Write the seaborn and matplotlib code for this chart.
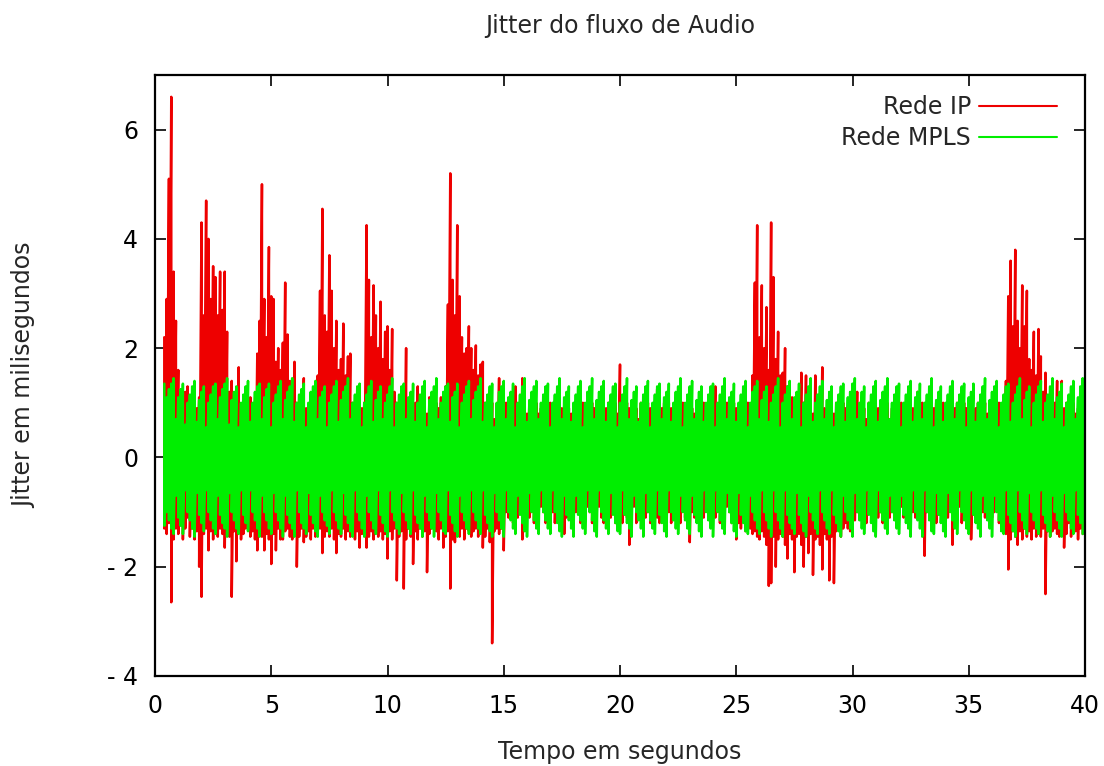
import numpy as np
import pandas as pd
import seaborn as sns
import matplotlib.pyplot as plt

# jitter (ms): for every 0.1 s step, the upper and lower value reached in that step
t_start = 0.4
dt = 0.1

ip_hi = [
    2.2, 2.9, 5.1, 6.6, 3.4, 2.5,                                  # 0.4-0.9
    1.6, 1.1, 0.9, 1.2, 1.3, 0.8, 1.0, 0.7, 0.9, 1.1,              # 1
    4.3, 2.6, 4.7, 4.0, 2.9, 3.5, 3.3, 2.6, 3.4, 2.7,              # 2
    3.4, 2.3, 1.2, 1.4, 0.9, 1.0, 1.65, 0.8, 1.0, 0.7,             # 3
    0.9, 1.1, 0.8, 1.0, 1.9, 2.5, 5.0, 2.9, 2.2, 3.85,             # 4
    2.95, 2.9, 1.75, 2.0, 1.6, 2.1, 3.2, 2.25, 1.4, 1.2,           # 5
    1.75, 1.0, 0.9, 1.1, 1.45, 0.9, 0.8, 1.0, 0.7, 0.9,            # 6
    1.5, 3.05, 4.55, 2.6, 2.3, 3.7, 3.05, 2.0, 2.5, 1.6,           # 7
    1.8, 2.45, 1.5, 1.85, 1.9, 1.0, 0.9, 0.8, 1.1, 0.9,            # 8
    1.0, 4.25, 3.25, 2.2, 3.15, 2.6, 2.0, 2.85, 1.8, 2.3,          # 9
    2.4, 1.6, 2.35, 1.2, 1.0, 0.9, 1.2, 1.0, 2.0, 0.9,             # 10
    1.1, 0.8, 1.0, 1.3, 0.9, 0.7, 1.0, 0.8, 1.1, 0.9,              # 11
    0.8, 1.0, 0.9, 1.1, 0.8, 1.3, 2.8, 5.2, 3.25, 2.6,             # 12
    4.25, 2.95, 2.2, 1.9, 2.0, 2.4, 2.0, 1.6, 2.05, 1.5,           # 13
    1.7, 1.75, 1.0, 0.8, 0.9, 1.0, 0.7, 0.9, 1.45, 0.8,            # 14
    0.9, 1.0, 0.8, 0.7, 1.0, 1.3, 0.9, 0.8, 1.45, 0.9,             # 15
    0.8, 1.0, 0.9, 0.7, 1.0, 0.8, 0.9, 1.0, 0.7, 0.9,              # 16
    1.0, 0.8, 0.9, 1.0, 0.7, 0.9, 0.8, 1.0, 0.9, 0.8,              # 17
    0.9, 1.0, 0.8, 0.9, 1.0, 0.7, 0.9, 0.8, 1.0, 0.9,              # 18
    0.8, 0.9, 1.0, 0.8, 0.9, 1.0, 0.7, 0.9, 1.0, 0.8,              # 19
    1.7, 0.9, 0.8, 1.0, 0.9, 0.8, 1.0, 0.9, 0.7, 1.0,              # 20
    0.9, 0.8, 1.0, 0.9, 0.7, 1.0, 1.25, 0.8, 0.9, 1.0,             # 21
    0.8, 1.0, 0.9, 0.8, 1.0, 0.9, 0.7, 1.0, 0.9, 0.8,              # 22
    1.0, 0.9, 0.8, 1.0, 0.9, 0.7, 1.0, 0.8, 0.9, 1.0,              # 23
    0.9, 1.3, 0.8, 1.0, 0.9, 0.8, 1.0, 0.9, 0.7, 1.0,              # 24
    0.9, 0.8, 1.0, 0.9, 0.8, 1.0, 0.9, 1.5, 3.2, 4.25,             # 25
    2.2, 3.15, 2.0, 2.75, 1.6, 4.3, 3.3, 1.8, 2.3, 1.5,            # 26
    1.55, 2.0, 1.3, 1.0, 1.1, 0.9, 1.0, 0.8, 1.55, 1.0,            # 27
    1.5, 0.9, 1.0, 0.8, 1.5, 0.9, 1.0, 1.65, 0.9, 0.8,             # 28
    1.0, 0.9, 0.8, 1.0, 0.9, 0.7, 1.0, 0.9, 0.8, 1.0,              # 29
    0.9, 1.2, 1.2, 0.8, 1.0, 0.9, 0.7, 1.0, 0.9, 0.8,              # 30
    1.0, 0.9, 0.8, 1.0, 0.9, 1.0, 0.7, 0.9, 1.0, 0.8,              # 31
    0.9, 1.0, 0.8, 0.9, 1.0, 0.7, 0.9, 0.8, 1.2, 0.9,              # 32
    1.0, 0.8, 0.9, 1.0, 0.7, 0.9, 1.0, 0.8, 0.9, 1.0,              # 33
    0.8, 0.9, 1.0, 0.7, 0.9, 1.0, 0.8, 0.9, 1.0, 0.9,              # 34
    0.9, 1.0, 0.8, 0.9, 1.0, 0.7, 0.9, 1.0, 0.8, 0.9,              # 35
    1.0, 0.8, 0.9, 1.0, 0.9, 0.8, 1.4, 2.95, 3.6, 2.4,             # 36
    3.8, 2.5, 2.0, 3.15, 2.4, 3.05, 1.8, 1.6, 2.3, 1.5,            # 37
    2.35, 1.85, 1.2, 1.55, 1.0, 0.9, 0.8, 1.0, 1.4, 0.9,           # 38
    1.4, 0.9, 1.0, 0.8, 0.9, 1.0, 0.8, 0.9, 1.0, 0.7,              # 39
]

ip_lo = [
    -1.3, -1.4, -1.2, -2.65, -1.5, -1.3,                                     # 0.4-0.9
    -1.4, -1.2, -1.5, -1.3, -1.1, -1.45, -1.3, -1.5, -1.35, -2.0,            # 1
    -2.55, -1.4, -1.3, -1.7, -1.35, -1.5, -1.25, -1.45, -1.3, -1.4,          # 2
    -1.65, -1.3, -1.45, -2.55, -1.35, -1.9, -1.3, -1.5, -1.4, -1.3,          # 3
    -1.3, -1.45, -1.35, -1.5, -1.7, -1.3, -1.45, -1.7, -1.4, -1.5,           # 4
    -1.95, -1.4, -1.7, -1.3, -1.5, -1.5, -1.35, -1.3, -1.45, -1.5,           # 5
    -1.35, -2.0, -1.45, -1.3, -1.55, -1.45, -1.35, -1.5, -1.3, -1.45,        # 6
    -1.35, -1.3, -1.75, -1.45, -1.35, -1.45, -1.3, -1.5, -1.75, -1.4,        # 7
    -1.45, -1.3, -1.5, -1.35, -1.45, -1.3, -1.5, -1.35, -1.65, -1.4,         # 8
    -1.3, -1.65, -1.45, -1.35, -1.5, -1.3, -1.45, -1.35, -1.5, -1.4,         # 9
    -1.85, -1.35, -1.5, -1.3, -2.25, -1.45, -1.35, -2.4, -1.5, -1.3,         # 10
    -1.45, -1.95, -1.35, -1.5, -1.3, -1.45, -1.35, -2.1, -1.4, -1.3,         # 11
    -1.25, -1.35, -1.5, -1.3, -1.65, -1.45, -1.35, -2.4, -1.5, -1.55,        # 12
    -1.35, -1.45, -1.3, -1.5, -1.3, -1.35, -1.45, -1.35, -1.3, -1.45,        # 13
    -1.35, -1.65, -1.45, -1.3, -1.55, -3.4, -1.35, -1.3, -1.4, -1.3,         # 14
    -1.7, -1.0, -1.1, -0.9, -1.2, -1.0, -1.1, -0.9, -1.5, -1.0,              # 15
    -1.0, -1.1, -0.9, -1.2, -1.0, -1.1, -0.9, -1.0, -1.2, -1.1,              # 16
    -0.9, -1.0, -1.2, -1.1, -0.9, -1.0, -1.4, -1.1, -1.0, -0.9,              # 17
    -1.1, -1.0, -0.9, -1.2, -1.0, -1.1, -0.9, -1.0, -1.2, -1.1,              # 18
    -1.0, -0.9, -1.1, -1.2, -1.0, -0.9, -1.1, -1.0, -1.2, -1.1,              # 19
    -1.0, -1.2, -0.9, -1.1, -1.6, -1.0, -0.9, -1.2, -1.1, -1.0,              # 20
    -0.9, -1.1, -1.0, -1.2, -0.9, -1.0, -1.1, -1.2, -1.0, -0.9,              # 21
    -1.1, -1.0, -1.2, -0.9, -1.1, -1.0, -1.2, -0.9, -1.1, -1.0,              # 22
    -1.55, -1.0, -1.1, -0.9, -1.2, -1.0, -1.1, -0.9, -1.0, -1.2,             # 23
    -1.0, -1.1, -0.9, -1.2, -1.0, -1.1, -0.9, -1.0, -1.2, -1.1,              # 24
    -1.5, -1.2, -1.3, -1.1, -1.35, -1.2, -1.3, -1.4, -1.35, -1.45,           # 25
    -1.5, -1.35, -1.45, -1.6, -2.35, -2.3, -1.45, -2.0, -1.5, -1.4,          # 26
    -1.45, -1.6, -1.85, -1.4, -1.5, -2.1, -1.45, -1.4, -1.6, -2.0,           # 27
    -1.45, -1.75, -1.4, -2.15, -1.5, -1.45, -1.6, -2.05, -1.4, -1.5,         # 28
    -2.25, -1.45, -2.3, -1.35, -1.3, -1.45, -1.3, -1.2, -1.3, -1.35,         # 29
    -1.0, -1.15, -1.0, -0.9, -1.1, -1.0, -1.2, -0.9, -1.0, -1.1,             # 30
    -0.9, -1.1, -1.0, -1.2, -0.9, -1.0, -1.1, -1.0, -0.9, -1.1,              # 31
    -1.0, -0.9, -1.1, -1.0, -1.2, -0.9, -1.0, -1.1, -0.9, -1.0,              # 32
    -1.1, -1.8, -1.0, -0.9, -1.1, -1.0, -1.2, -0.9, -1.0, -1.1,              # 33
    -1.0, -1.1, -0.9, -1.6, -1.0, -1.1, -0.9, -1.2, -1.0, -1.1,              # 34
    -0.9, -1.5, -1.0, -1.1, -0.9, -1.2, -1.0, -1.1, -0.9, -1.0,              # 35
    -1.1, -1.0, -0.9, -1.2, -1.0, -1.3, -1.4, -2.05, -1.5, -1.35,            # 36
    -1.45, -1.6, -1.35, -1.5, -1.3, -1.45, -1.35, -1.5, -1.3, -1.45,         # 37
    -1.35, -1.45, -1.3, -2.5, -1.35, -1.45, -1.35, -1.3, -1.4, -1.45,        # 38
    -1.3, -1.65, -1.4, -1.2, -1.45, -1.3, -1.35, -1.5, -1.3, -1.4,           # 39
]

mpls_hi = [
    1.35, 1.1, 1.25, 1.35, 1.45, 0.7,                                 # 0.4-0.9
    1.1, 1.25, 1.35, 0.6, 1.0, 1.15, 1.3, 1.4, 0.65, 1.05,            # 1
    1.2, 1.3, 0.55, 1.0, 1.15, 1.3, 1.35, 0.7, 1.1, 1.25,             # 2
    1.35, 1.45, 0.6, 1.05, 1.2, 1.3, 0.55, 1.0, 1.15, 1.3,            # 3
    1.4, 0.65, 1.0, 1.2, 1.3, 1.35, 0.7, 1.1, 1.25, 1.35,             # 4
    0.55, 1.0, 1.15, 1.3, 1.4, 0.7, 1.05, 1.2, 1.3, 1.45,             # 5
    0.65, 1.0, 1.15, 1.25, 1.35, 0.55, 1.0, 1.2, 1.3, 1.4,            # 6
    0.7, 1.1, 1.2, 1.3, 0.55, 1.0, 1.15, 1.3, 1.4, 0.65,              # 7
    1.05, 1.2, 1.3, 1.45, 0.7, 1.0, 1.15, 1.3, 1.35, 0.55,            # 8
    1.0, 1.15, 1.3, 1.4, 0.65, 1.05, 1.2, 1.3, 0.7, 1.0,              # 9
    1.15, 1.3, 1.45, 0.55, 1.0, 1.15, 1.3, 1.35, 0.7, 1.1,            # 10
    1.2, 1.35, 0.65, 1.0, 1.15, 1.3, 1.4, 0.55, 1.05, 1.2,            # 11
    1.3, 1.45, 0.7, 1.0, 1.2, 1.3, 1.35, 0.65, 1.1, 1.2,              # 12
    1.35, 0.55, 1.0, 1.15, 1.3, 1.4, 0.7, 1.05, 1.2, 1.3,             # 13
    1.45, 0.65, 1.0, 1.15, 1.3, 1.35, 0.55, 1.0, 1.2, 1.3,            # 14
    1.4, 0.7, 1.1, 1.2, 1.35, 0.55, 1.0, 1.15, 1.3, 1.45,             # 15
    0.65, 1.05, 1.2, 1.3, 1.4, 0.7, 1.0, 1.15, 1.3, 1.35,             # 16
    0.55, 1.0, 1.15, 1.3, 1.45, 0.7, 1.1, 1.2, 1.3, 0.65,             # 17
    1.0, 1.15, 1.3, 1.4, 0.55, 1.0, 1.2, 1.3, 1.45, 0.7,              # 18
    1.05, 1.2, 1.3, 1.4, 0.65, 1.0, 1.15, 1.3, 1.35, 0.55,            # 19
    1.0, 1.15, 1.3, 1.45, 0.7, 1.05, 1.2, 1.3, 0.65, 1.0,             # 20
    1.15, 1.3, 1.4, 0.55, 1.0, 1.15, 1.3, 1.35, 0.7, 1.1,             # 21
    1.2, 1.35, 0.65, 1.0, 1.2, 1.3, 1.45, 0.55, 1.0, 1.15,            # 22
    1.3, 1.4, 0.7, 1.05, 1.2, 1.3, 0.65, 1.0, 1.15, 1.3,              # 23
    1.35, 0.55, 1.0, 1.15, 1.3, 1.45, 0.7, 1.1, 1.2, 1.35,            # 24
    0.65, 1.0, 1.15, 1.3, 1.4, 0.55, 1.0, 1.2, 1.3, 1.4,              # 25
    0.7, 1.05, 1.2, 1.3, 0.65, 1.0, 1.15, 1.3, 1.45, 0.55,            # 26
    1.0, 1.15, 1.3, 1.4, 0.7, 1.1, 1.2, 1.35, 0.55, 1.0,              # 27
    1.15, 1.3, 1.45, 0.65, 1.0, 1.15, 1.3, 1.4, 0.7, 1.05,            # 28
    1.2, 1.3, 0.55, 1.0, 1.15, 1.3, 1.35, 0.65, 1.1, 1.2,             # 29
    1.35, 1.45, 0.7, 1.0, 1.2, 1.3, 0.55, 1.0, 1.15, 1.3,             # 30
    1.4, 0.65, 1.05, 1.2, 1.3, 1.45, 0.7, 1.0, 1.15, 1.3,             # 31
    1.35, 0.55, 1.0, 1.15, 1.3, 1.4, 0.65, 1.1, 1.2, 1.35,            # 32
    0.7, 1.0, 1.15, 1.3, 1.45, 0.55, 1.05, 1.2, 1.3, 0.65,            # 33
    1.0, 1.15, 1.3, 1.4, 0.7, 1.0, 1.15, 1.3, 1.35, 0.55,             # 34
    1.1, 1.2, 1.35, 0.65, 1.0, 1.15, 1.3, 1.45, 0.7, 1.05,            # 35
    1.2, 1.3, 1.4, 0.55, 1.0, 1.15, 1.3, 1.35, 0.65, 1.0,             # 36
    1.15, 1.3, 1.45, 0.7, 1.05, 1.2, 1.3, 0.55, 1.0, 1.15,            # 37
    1.3, 1.4, 0.65, 1.0, 1.15, 1.3, 1.45, 0.7, 1.1, 1.2,              # 38
    1.35, 0.55, 1.0, 1.15, 1.3, 1.4, 0.7, 1.1, 1.3, 1.45,             # 39
]

mpls_lo = [
    -1.25, -1.0, -1.15, -1.3, -1.4, -0.7,                                     # 0.4-0.9
    -1.1, -1.25, -1.4, -0.6, -1.0, -1.15, -1.3, -1.45, -0.65, -1.05,          # 1
    -1.2, -1.35, -0.6, -1.0, -1.15, -1.3, -1.4, -0.7, -1.05, -1.2,            # 2
    -1.3, -1.45, -0.65, -1.0, -1.15, -1.3, -1.4, -0.6, -1.05, -1.2,           # 3
    -1.35, -0.6, -1.0, -1.15, -1.3, -1.45, -0.7, -1.0, -1.15, -1.3,           # 4
    -1.4, -0.65, -1.0, -1.15, -1.3, -1.45, -0.7, -1.05, -1.2, -1.3,           # 5
    -1.45, -0.6, -1.0, -1.2, -1.3, -1.4, -0.65, -1.05, -1.2, -1.35,           # 6
    -1.45, -0.7, -1.0, -1.15, -1.25, -1.4, -0.6, -1.0, -1.15, -1.3,           # 7
    -1.4, -0.65, -1.05, -1.2, -1.35, -1.45, -0.6, -1.0, -1.15, -1.3,          # 8
    -1.45, -0.7, -1.0, -1.15, -1.3, -1.4, -0.6, -1.05, -1.2, -1.35,           # 9
    -1.45, -0.6, -1.0, -1.15, -1.3, -1.4, -0.65, -1.0, -1.15, -1.3,           # 10
    -1.4, -0.6, -1.05, -1.2, -1.3, -1.45, -0.7, -1.0, -1.15, -1.3,            # 11
    -1.45, -0.65, -1.0, -1.15, -1.35, -1.4, -0.6, -1.05, -1.2, -1.35,         # 12
    -1.45, -0.7, -1.0, -1.15, -1.3, -1.4, -0.6, -1.0, -1.15, -1.3,            # 13
    -1.4, -0.6, -1.05, -1.2, -1.35, -1.45, -0.65, -1.0, -1.15, -1.3,          # 14
    -1.45, -0.6, -1.0, -1.15, -1.3, -1.4, -0.7, -1.05, -1.2, -1.35,           # 15
    -1.45, -0.65, -1.0, -1.15, -1.3, -1.4, -0.6, -1.0, -1.15, -1.3,           # 16
    -1.4, -0.6, -1.0, -1.2, -1.35, -1.45, -0.7, -1.05, -1.15, -1.3,           # 17
    -1.45, -0.7, -1.05, -1.15, -1.3, -1.4, -0.6, -1.0, -1.15, -1.35,          # 18
    -1.45, -0.6, -1.0, -1.15, -1.3, -1.4, -0.65, -1.05, -1.2, -1.35,          # 19
    -1.4, -0.6, -1.05, -1.2, -1.3, -1.45, -0.7, -1.0, -1.15, -1.3,            # 20
    -1.45, -0.65, -1.0, -1.15, -1.3, -1.4, -0.6, -1.05, -1.2, -1.35,          # 21
    -1.45, -0.6, -1.0, -1.15, -1.3, -1.4, -0.7, -1.0, -1.15, -1.3,            # 22
    -1.4, -0.7, -1.05, -1.2, -1.35, -1.45, -0.6, -1.0, -1.15, -1.3,           # 23
    -1.45, -0.6, -1.0, -1.15, -1.3, -1.4, -0.65, -1.0, -1.2, -1.35,           # 24
    -1.45, -0.65, -1.05, -1.2, -1.35, -1.4, -0.7, -1.0, -1.15, -1.3,          # 25
    -1.4, -0.6, -1.0, -1.15, -1.3, -1.45, -0.6, -1.0, -1.15, -1.3,            # 26
    -1.45, -0.6, -1.05, -1.2, -1.3, -1.4, -0.65, -1.05, -1.2, -1.35,          # 27
    -1.45, -0.7, -1.0, -1.15, -1.3, -1.4, -0.6, -1.0, -1.15, -1.3,            # 28
    -1.4, -0.6, -1.05, -1.2, -1.35, -1.45, -0.7, -1.0, -1.15, -1.3,           # 29
    -1.45, -0.65, -1.0, -1.15, -1.3, -1.4, -0.6, -1.05, -1.2, -1.35,          # 30
    -1.45, -0.6, -1.0, -1.15, -1.3, -1.4, -0.7, -1.0, -1.15, -1.3,            # 31
    -1.4, -0.7, -1.05, -1.2, -1.3, -1.45, -0.6, -1.0, -1.15, -1.3,            # 32
    -1.45, -0.6, -1.0, -1.15, -1.35, -1.4, -0.65, -1.05, -1.2, -1.35,         # 33
    -1.45, -0.65, -1.0, -1.15, -1.3, -1.4, -0.6, -1.0, -1.15, -1.3,           # 34
    -1.4, -0.6, -1.05, -1.2, -1.3, -1.45, -0.7, -1.0, -1.15, -1.3,            # 35
    -1.45, -0.7, -1.0, -1.15, -1.35, -1.4, -0.6, -1.05, -1.2, -1.35,          # 36
    -1.45, -0.6, -1.0, -1.15, -1.3, -1.4, -0.65, -1.0, -1.15, -1.3,           # 37
    -1.4, -0.6, -1.05, -1.2, -1.35, -1.45, -0.7, -1.0, -1.15, -1.3,           # 38
    -1.45, -0.65, -1.0, -1.15, -1.3, -1.4, -0.6, -1.05, -1.2, -1.4,           # 39
]

xticks = [0, 5, 10, 15, 20, 25, 30, 35, 40]
yticks = [-4, -2, 0, 2, 4, 6]
ytick_labels = ['- 4', '- 2', '0', '2', '4', '6']

RED = '#ee0000'
GREEN = '#00ee00'


def trace(hi, lo):
    # each time step draws a stroke from its upper to its lower value
    n = min(len(hi), len(lo))
    t = t_start + dt * np.arange(n)
    return pd.DataFrame({'t': np.repeat(t, 2),
                         'jitter': np.column_stack([hi[:n], lo[:n]]).ravel()})


sns.set_style('ticks')
plt.rcParams['font.family'] = ['DejaVu Sans']

fig = plt.figure(figsize=(11.04, 7.66), dpi=100)
ax = fig.add_axes([0.1404, 0.1175, 0.8424, 0.7846])

sns.lineplot(data=trace(ip_hi, ip_lo), x='t', y='jitter', ax=ax, color=RED,
             lw=1.8, estimator=None, sort=False, label='Rede IP')
sns.lineplot(data=trace(mpls_hi, mpls_lo), x='t', y='jitter', ax=ax, color=GREEN,
             lw=1.8, estimator=None, sort=False, label='Rede MPLS')

ax.set_xlim(0, 40)
ax.set_ylim(-4, 7)
ax.set_xticks(xticks)
ax.set_yticks(yticks)
ax.set_yticklabels(ytick_labels)
ax.tick_params(direction='in', top=True, right=True, length=8, width=1.2,
               labelsize=17, colors='black')
ax.tick_params(axis='x', pad=13)
ax.tick_params(axis='y', pad=12)
for sp in ax.spines.values():
    sp.set_linewidth(1.6)
    sp.set_color('black')

ax.set_title('Jitter do fluxo de Audio', fontsize=17, pad=30)
ax.set_xlabel('Tempo em segundos', fontsize=17)
ax.set_ylabel('Jitter em milisegundos', fontsize=17)
ax.xaxis.set_label_coords(0.5, -0.106)
ax.yaxis.set_label_coords(-0.128, 0.5)

leg = ax.legend(loc='upper right', bbox_to_anchor=(0.98, 0.982), borderaxespad=0,
                frameon=False, markerfirst=False, fontsize=17,
                handlelength=3.3, handletextpad=0.35, labelspacing=0.3)
for line in leg.get_lines():
    line.set_linewidth(1.5)

fig.savefig('out.png', dpi=100)
